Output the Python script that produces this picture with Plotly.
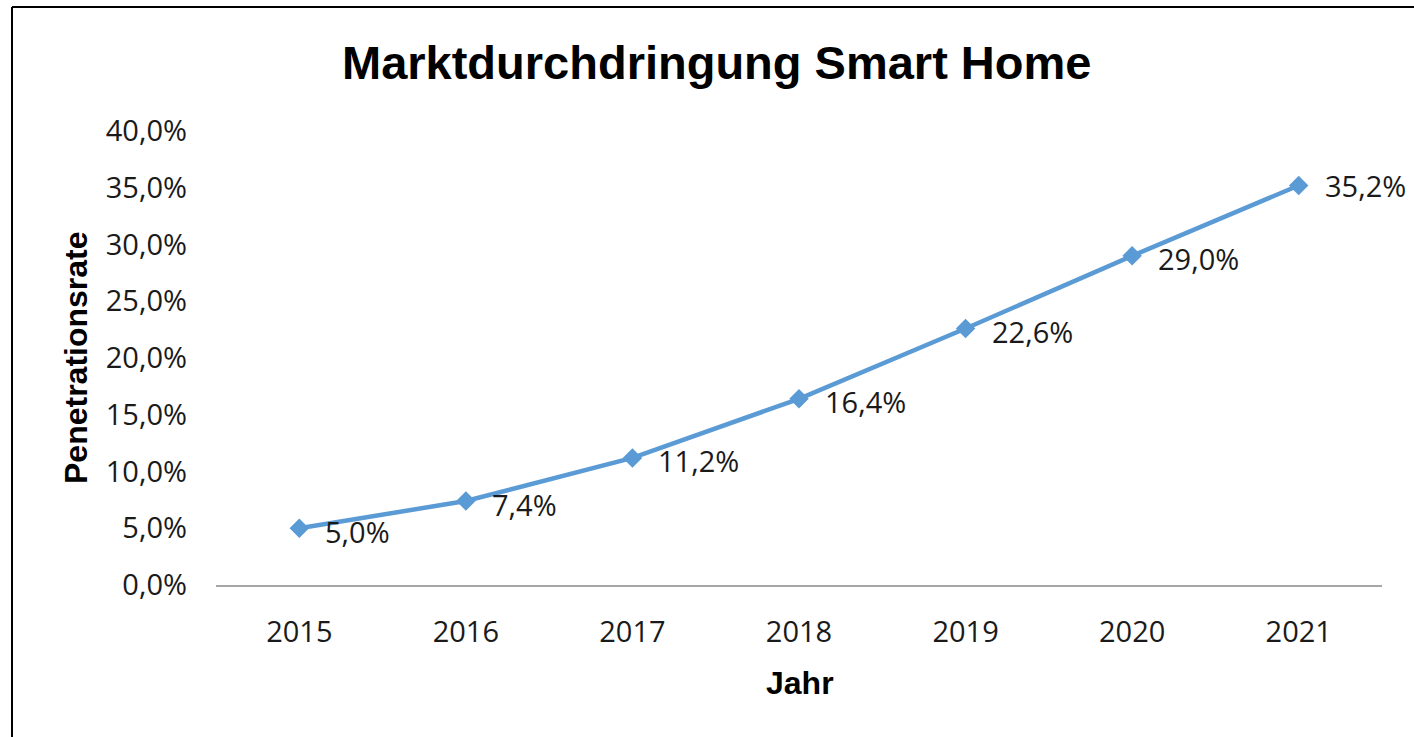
import plotly.graph_objects as go

# Smart-home market penetration by year
years = ["2015", "2016", "2017", "2018", "2019", "2020", "2021"]
penetration = [0.050, 0.074, 0.112, 0.164, 0.226, 0.290, 0.352]

y_ticks = [0.0, 0.05, 0.10, 0.15, 0.20, 0.25, 0.30, 0.35, 0.40]

W, H = 1414, 737
ML, MR, MT, MB = 216, 32, 131, 152
PW, PH = W - ML - MR, H - MT - MB


def px_x(px):
    return (px - ML) / PW


def px_y(py):
    return (H - MB - py) / PH


BLUE = "#5B9BD5"
TICK_FONT = dict(family="Open Sans", size=29, color="#1a1a1a")
BOLD_FONT = "Liberation Sans, Arial, sans-serif"

fig = go.Figure()
fig.add_trace(go.Scatter(
    x=years,
    y=penetration,
    mode="lines+markers",
    line=dict(color=BLUE, width=4.5),
    marker=dict(symbol="diamond", size=15, color=BLUE),
    hoverinfo="skip",
    showlegend=False,
))

# value labels to the right of each point (category index on x)
annotations = []
for i, v in enumerate(penetration):
    label = f"{v * 100:.1f}".replace(".", ",") + "%"
    annotations.append(dict(
        x=i, y=v, xref="x", yref="y",
        text=label, showarrow=False,
        xanchor="left", yanchor="middle",
        xshift=24, yshift=0 if i == len(penetration) - 1 else -3,
        font=TICK_FONT,
    ))

annotations += [
    dict(text="<b>Marktdurchdringung Smart Home</b>", xref="paper", yref="paper",
         x=px_x(716), y=px_y(62), xanchor="center", yanchor="middle",
         showarrow=False, font=dict(family=BOLD_FONT, size=47, color="#000000")),
    dict(text="<b>Jahr</b>", xref="paper", yref="paper",
         x=px_x(800), y=px_y(683), xanchor="center", yanchor="middle",
         showarrow=False, font=dict(family=BOLD_FONT, size=32, color="#000000")),
    dict(text="<b>Penetrationsrate</b>", xref="paper", yref="paper",
         x=px_x(76), y=px_y(358), xanchor="center", yanchor="middle",
         textangle=-90, showarrow=False,
         font=dict(family=BOLD_FONT, size=32, color="#000000")),
]

# outer frame (left and top edges)
shapes = [
    dict(type="line", xref="paper", yref="paper",
         x0=px_x(12), x1=px_x(12), y0=px_y(7), y1=px_y(H + 10),
         line=dict(color="#000000", width=2)),
    dict(type="line", xref="paper", yref="paper",
         x0=px_x(12), x1=px_x(W + 10), y0=px_y(7), y1=px_y(7),
         line=dict(color="#000000", width=2)),
]

fig.update_layout(
    width=W, height=H,
    margin=dict(l=ML, r=MR, t=MT, b=MB, pad=0),
    paper_bgcolor="white",
    plot_bgcolor="white",
    separators=",.",
    annotations=annotations,
    shapes=shapes,
    xaxis=dict(
        type="category",
        range=[-0.5, len(years) - 0.5],
        showgrid=False,
        showline=True, linecolor="#A6A6A6", linewidth=2,
        ticks="", tickfont=TICK_FONT,
        ticklabelstandoff=20,
        zeroline=False,
        fixedrange=True,
    ),
    yaxis=dict(
        range=[0, 0.40],
        tickvals=y_ticks,
        tickformat=".1%",
        showgrid=False,
        showline=False,
        zeroline=False,
        ticks="", tickfont=TICK_FONT,
        ticklabelstandoff=28,
        fixedrange=True,
    ),
)

fig.write_html("out.html")
